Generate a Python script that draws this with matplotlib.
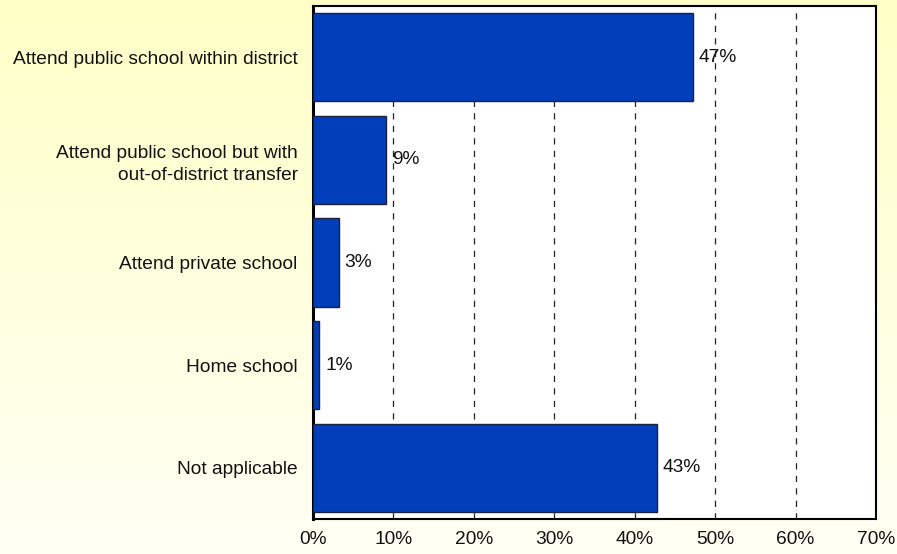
import matplotlib
matplotlib.use("Agg")
import matplotlib.pyplot as plt
import numpy as np
from matplotlib.ticker import FuncFormatter

categories = [
    "Attend public school within district",
    "Attend public school but with\nout-of-district transfer",
    "Attend private school",
    "Home school",
    "Not applicable",
]
values = [47.2, 9.1, 3.2, 0.8, 42.8]
xticks = [0, 10, 20, 30, 40, 50, 60, 70]

plt.rcParams["font.family"] = ["Liberation Sans", "DejaVu Sans"]
FS = 13.8

fig = plt.figure(figsize=(8.97, 5.54), dpi=100)

# vertical yellow-to-cream gradient behind everything
bg = fig.add_axes([0, 0, 1, 1], zorder=-10)
grad = np.linspace(0, 1, 256).reshape(-1, 1)
top = np.array([1.0, 1.0, 0.78])
bottom = np.array([1.0, 1.0, 0.96])
img = top + (bottom - top) * grad[..., None]
bg.imshow(img, aspect="auto", extent=[0, 1, 0, 1])
bg.axis("off")

ax = fig.add_axes([313 / 897, 1 - 519 / 554, (876 - 313) / 897, (519 - 6) / 554])
ax.set_facecolor("white")

y = np.arange(len(categories))
ax.barh(y, values, height=0.86, color="#003EBA", edgecolor="#1A2240", linewidth=1.0, zorder=3)

for yi, v in zip(y, values):
    ax.text(v + 0.7, yi, f"{v:.0f}%", va="center", ha="left", fontsize=FS, color="#111111", zorder=4)

ax.set_xlim(0, 70)
ax.set_ylim(len(categories) - 0.5, -0.5)
ax.set_xticks(xticks)
ax.xaxis.set_major_formatter(FuncFormatter(lambda v, p: f"{v:.0f}%"))
ax.set_yticks(y)
ax.set_yticklabels(categories, fontsize=FS, color="#111111", linespacing=1.4)
ax.tick_params(axis="y", length=0, pad=11)
ax.tick_params(axis="x", length=0, pad=9, labelsize=FS, labelcolor="#111111")

ax.xaxis.grid(True, linestyle=(0, (5, 5)), color="#222222", linewidth=0.9, zorder=1)
ax.set_axisbelow(True)
for s in ax.spines.values():
    s.set_color("black")
    s.set_linewidth(1.5)
ax.spines["left"].set_linewidth(2.2)

fig.savefig("out.png", dpi=100)
